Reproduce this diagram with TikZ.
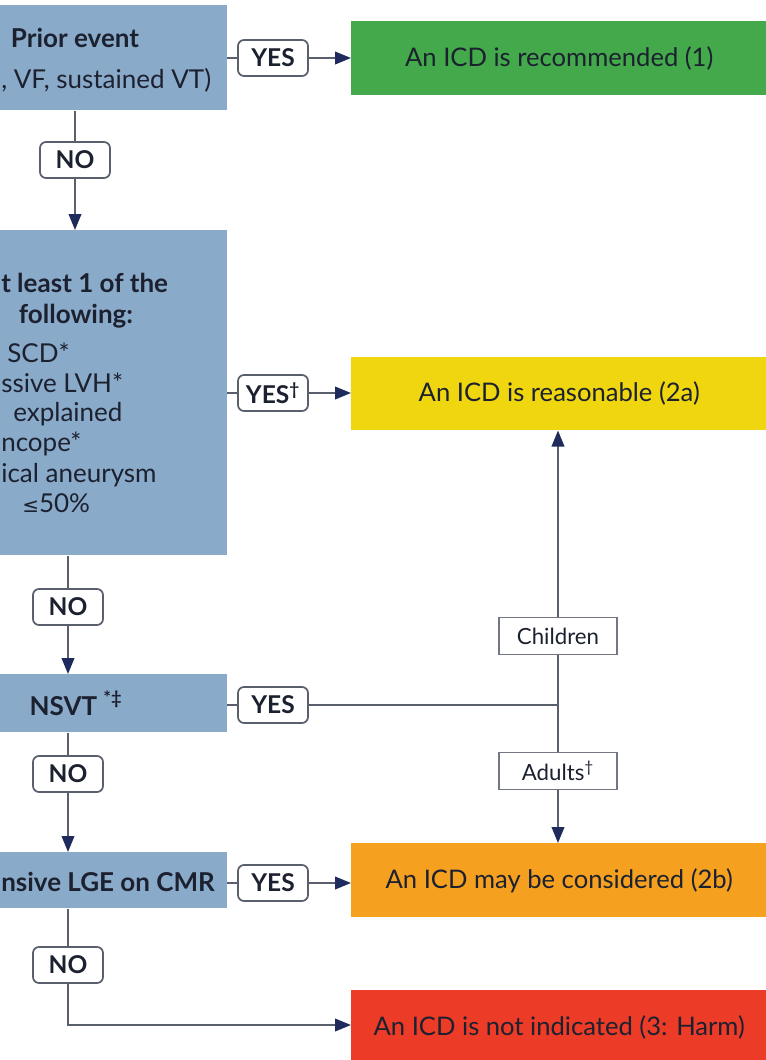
\documentclass[tikz,border=0pt]{standalone}
\usepackage{fontspec}
\setmainfont{Lato}
\newfontfamily\symfont{DejaVu Sans}
\usetikzlibrary{arrows.meta}
\definecolor{qblue}{HTML}{8AAAC9}
\definecolor{recgreen}{HTML}{43A94A}
\definecolor{reasyellow}{HTML}{EFD60E}
\definecolor{consorange}{HTML}{F6A01F}
\definecolor{harmred}{HTML}{EC3B27}
\definecolor{linegray}{HTML}{5A5F6E}
\definecolor{tipnavy}{HTML}{1E2B5C}
\definecolor{txtdark}{HTML}{1C2130}
\newcommand{\pxl}[1]{#1*0.75pt}
\newcommand{\viaLabel}[3]{\draw[link] (#1) -- (#2); \draw[arr] (#2) -- (#3);}

\begin{document}
\begin{tikzpicture}[x=0.75pt,y=-0.75pt,
    question/.style={fill=qblue,inner sep=0pt,anchor=north east},
    qtext/.style={text=txtdark,inner sep=0pt,font=\fontsize{19.5}{22}\selectfont},
    qtitle/.style={qtext,font=\bfseries\fontsize{19.5}{22}\selectfont},
    outcome/.style={inner sep=0pt,anchor=north west,minimum width=\pxl{416},
      text=txtdark,font=\fontsize{19.2}{22}\selectfont},
    answer/.style={draw=linegray,line width=1.3pt,rounded corners=4.5pt,fill=white,
      minimum width=\pxl{70},minimum height=\pxl{36},inner sep=0pt,
      text=txtdark,font=\bfseries\fontsize{18.4}{21}\selectfont},
    agebox/.style={draw=linegray!85,line width=1.1pt,fill=white,
      minimum width=\pxl{118},minimum height=\pxl{37},inner sep=0pt,
      text=txtdark,font=\fontsize{16.7}{19}\selectfont},
    link/.style={draw=linegray,line width=1.3pt},
    arr/.style={link,-{Triangle[length=12pt,width=9.5pt,color=tipnavy]}}]
\useasboundingbox (0,0) rectangle (766,1060);
\clip (0,0) rectangle (766,1060);

% questions
\node[question,minimum width=\pxl{300},minimum height=\pxl{105}] (prior) at (227,5) {};
\node[qtitle,anchor=base] (priortitle) at (75,47) {Prior event};
\node[qtext,anchor=base west] (priorlist) at (1,88) {, VF, sustained VT)};

\node[question,minimum width=\pxl{300},minimum height=\pxl{325}] (least) at (227,230) {};
\node[qtitle,anchor=base west] (leasttitle) at (1,292) {t least 1 of the};
\node[qtitle,anchor=base] (leastfollow) at (76,323) {following:};
\foreach \n/\x/\y/\t in {a/7/362/SCD*, b/1/392/ssive LVH*, c/13/421/explained,
    d/1/451/ncope*, e/1/482/ical aneurysm, f/22/512/{{\symfont\fontsize{15}{18}\selectfont ≤}50\%}}
  \node[qtext,anchor=base west] (least\n) at (\x,\y) {\t};

\node[question,minimum width=\pxl{300},minimum height=\pxl{58}] (nsvt) at (227,674) {};
\node[qtitle,anchor=base] (nsvttext) at (76,715) {NSVT \textsuperscript{*‡}};

\node[question,minimum width=\pxl{300},minimum height=\pxl{56}] (lge) at (227,852) {};
\node[qtitle,anchor=base west] (lgetext) at (1,891) {nsive LGE on CMR};

% outcomes
\node[outcome,fill=recgreen,minimum height=\pxl{74}] (rec) at (351,21) {An ICD is recommended (1)};
\node[outcome,fill=reasyellow,minimum height=\pxl{73}] (reas) at (351,357) {An ICD is reasonable (2a)};
\node[outcome,fill=consorange,minimum height=\pxl{74}] (cons) at (351,843) {An ICD may be considered (2b)};
\node[outcome,fill=harmred,minimum height=\pxl{74}] (harm) at (351,990) {An ICD is not indicated (3: Harm)};

% answers
\node[answer] (yes1) at (273,58) {YES};
\node[answer] (no1) at (75,160) {NO};
\node[answer] (yes2) at (273,393) {YES\textsuperscript{†}};
\node[answer] (no2) at (68,607) {NO};
\node[answer] (yes3) at (273,705) {YES};
\node[answer] (no3) at (68,774) {NO};
\node[answer] (yes4) at (273,883) {YES};
\node[answer] (no4) at (68,965) {NO};

\node[agebox] (kids) at (558,636) {Children};
\node[agebox] (adults) at (558,771) {Adults\textsuperscript{†}};
\coordinate (split) at (558,705);
\coordinate (bend) at (68,1025);

% links
\viaLabel{prior.east |- yes1}{yes1}{rec.west |- yes1}
\viaLabel{prior.south -| no1}{no1}{least.north -| no1}
\viaLabel{least.east |- yes2}{yes2}{reas.west |- yes2}
\viaLabel{least.south -| no2}{no2}{nsvt.north -| no2}
\viaLabel{nsvt.south -| no3}{no3}{lge.north -| no3}
\viaLabel{lge.east |- yes4}{yes4}{cons.west |- yes4}
\draw[link] (nsvt.east |- yes3) -- (yes3) -- (split) -- (kids);
\draw[arr] (kids) -- (reas.south -| kids);
\draw[link] (split) -- (adults);
\draw[arr] (adults) -- (cons.north -| adults);
\draw[link] (lge.south -| no4) -- (no4);
\draw[arr] (no4) -- (bend) -- (harm.west |- bend);
\end{tikzpicture}
\end{document}
